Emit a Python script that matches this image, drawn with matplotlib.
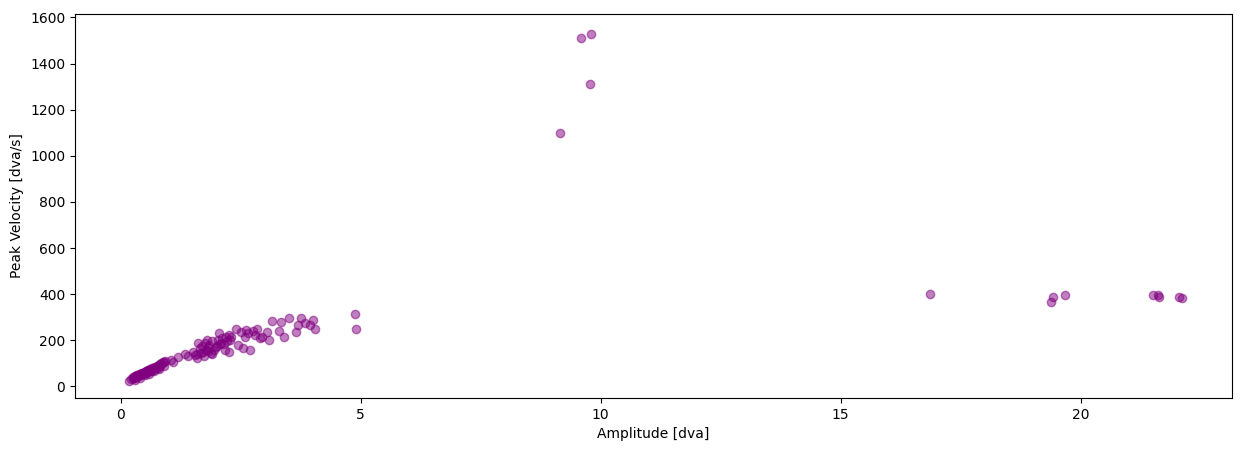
import matplotlib
matplotlib.use("Agg")
import matplotlib.pyplot as plt

amplitude = [0.18,0.22,0.25,0.28,0.3,0.32,0.35,0.38,0.4,0.42,0.45,0.48,0.5,0.52,0.55,0.58,0.6,0.62,0.65,0.68,0.7,0.72,0.75,0.78,0.8,0.82,0.85,0.88,0.9,0.92,
             0.25,0.3,0.35,0.4,0.45,0.5,0.55,0.6,0.65,0.7,0.75,0.8,0.85,0.28,0.33,0.38,0.43,0.48,0.53,0.58,0.63,0.68,0.73,0.78,
             0.3,0.4,0.5,0.6,0.7,0.8,0.9,
             1.05,1.1,1.2,1.35,1.4,1.5,1.55,1.6,1.62,1.65,1.7,1.72,1.75,1.78,1.8,1.82,1.85,1.88,1.9,1.95,2.0,2.02,2.05,2.1,2.12,2.15,2.2,2.22,2.25,2.28,2.3,
             1.6,1.68,1.74,1.82,1.9,1.98,2.08,2.18,2.26,
             2.4,2.45,2.5,2.55,2.6,2.62,2.65,2.7,2.75,2.8,2.85,2.9,2.95,3.05,3.1,3.15,3.3,3.35,3.4,3.5,3.65,3.7,3.75,3.85,3.95,4.0,4.05,
             4.88,4.9,
             9.15,9.58,9.78,9.8,
             16.85,19.38,19.42,19.68,21.5,21.6,21.62,22.05,22.1]
peak_velocity = [25,32,35,38,42,45,48,50,52,55,58,60,62,65,68,70,72,75,78,80,82,85,88,90,95,98,100,105,108,112,
                 40,45,50,55,58,62,66,70,75,80,85,90,95,36,42,46,52,56,60,64,68,72,78,82,
                 30,38,48,55,65,75,90,
                 115,105,128,140,130,150,135,140,190,165,175,150,190,160,200,170,180,145,195,160,175,200,230,190,210,185,215,195,225,200,215,
                 125,145,130,155,140,170,185,160,150,
                 250,180,235,165,215,245,230,160,240,225,250,210,215,235,200,285,240,280,215,295,235,265,295,275,265,290,250,
                 315,250,
                 1100,1510,1310,1530,
                 400,365,390,395,395,395,390,390,385]

fig = plt.figure(figsize=(12.47, 4.51), dpi=100)
ax = fig.add_axes([75/1247, 53/451, 1157/1247, 384/451])
ax.scatter(amplitude, peak_velocity, color="purple", alpha=0.5)
ax.set_xlim(-0.95, 23.15)
ax.set_ylim(-50, 1615)
ax.set_xlabel("Amplitude [dva]")
ax.set_ylabel("Peak Velocity [dva/s]")
fig.savefig("out.png", dpi=100)
